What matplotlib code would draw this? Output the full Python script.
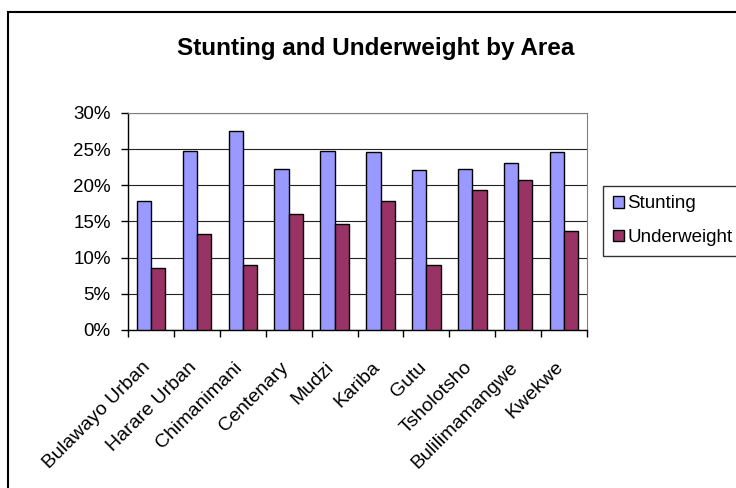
import numpy as np
import matplotlib
matplotlib.use("Agg")
from matplotlib import patches, pyplot as plt
from matplotlib.ticker import PercentFormatter, MultipleLocator, FixedLocator
from matplotlib.transforms import ScaledTranslation

plt.rcParams['font.family'] = ['Liberation Sans', 'DejaVu Sans']

areas = ["Bulawayo Urban", "Harare Urban", "Chimanimani", "Centenary", "Mudzi",
         "Kariba", "Gutu", "Tsholotsho", "Bulilimamangwe", "Kwekwe"]
stunting = [17.8, 24.8, 27.5, 22.3, 24.8, 24.6, 22.1, 22.3, 23.1, 24.6]
underweight = [8.5, 13.3, 9.0, 16.0, 14.6, 17.8, 9.0, 19.4, 20.7, 13.7]

fig = plt.figure(figsize=(7.36, 4.88), dpi=100)
ax = fig.add_axes([0.174, 0.3238, 0.6237, 0.4447])

x = np.arange(len(areas))
w = 0.31
ax.bar(x - w/2, np.array(stunting)/100, w, color='#9999FF', edgecolor='black',
       linewidth=1.0, label='Stunting', zorder=3)
ax.bar(x + w/2, np.array(underweight)/100, w, color='#993366', edgecolor='black',
       linewidth=1.0, label='Underweight', zorder=3)

ax.set_xlim(-0.5, len(areas) - 0.5)
ax.set_ylim(0, 0.30)
ax.yaxis.set_major_locator(MultipleLocator(0.05))
ax.yaxis.set_major_formatter(PercentFormatter(1.0, decimals=0))
ax.grid(axis='y', color='#222222', linewidth=0.8, zorder=0)

# category labels at centres, ticks at boundaries (Excel style)
ax.set_xticks(x)
ax.set_xticklabels(areas, rotation=45, ha='right', va='center',
                   rotation_mode='anchor', fontsize=14)
ax.tick_params(axis='x', length=0, pad=25)
shift = ScaledTranslation(-3/100, 0, fig.dpi_scale_trans)
for lab in ax.get_xticklabels():
    lab.set_transform(lab.get_transform() + shift)
ax.xaxis.set_minor_locator(FixedLocator(np.arange(-0.5, len(areas), 1.0)))
ax.tick_params(axis='x', which='minor', length=5, direction='out', width=1)
ax.tick_params(axis='y', length=5, direction='out', width=1, labelsize=13.5, pad=7.5)

for s in ['top', 'right']:
    ax.spines[s].set_color('#808080')
for s in ['left', 'bottom']:
    ax.spines[s].set_color('black')
    ax.spines[s].set_linewidth(1.0)

ax.set_title("Stunting and Underweight by Area", fontsize=17.5, fontweight='bold', pad=42,
             x=0.54)

leg = ax.legend(loc='upper left', bbox_to_anchor=(1.035, 0.664), fontsize=13.5,
                frameon=True, fancybox=False, edgecolor='black', handlelength=0.6,
                handleheight=0.6, handletextpad=0.2, borderpad=0.5, labelspacing=0.9,
                borderaxespad=0)
leg.get_frame().set_linewidth(1.0)

# outer chart border
fig.patches.append(patches.Rectangle((8/736, -0.1), 1.0, (488 - 12)/488 + 0.1,
                                     transform=fig.transFigure, fill=False,
                                     edgecolor='black', linewidth=1.5))

fig.savefig('out.png', dpi=100)
